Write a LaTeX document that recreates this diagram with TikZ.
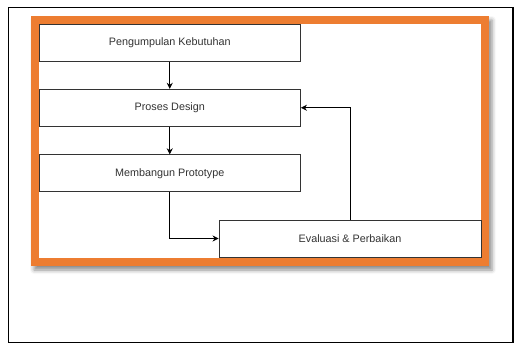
\documentclass[tikz,border=0pt]{standalone}
\usepackage{fontspec}
\setmainfont{Liberation Sans}
\usetikzlibrary{arrows.meta,shadows.blur}
\definecolor{frameorange}{HTML}{ED7D31}
\definecolor{boxline}{HTML}{333333}
\begin{document}
\begin{tikzpicture}[x=1pt,y=1pt,yscale=-1,xscale=1,
    stepbox/.style={draw=boxline, line width=0.9pt, fill=white, inner sep=0pt,
      minimum width=261.5pt, minimum height=37pt,
      font=\fontsize{10.8}{13}\selectfont, text=boxline},
    flow/.style={draw=black, line width=0.8pt, -{Stealth[length=6pt,width=6pt]}}]
        \useasboundingbox (0,0) rectangle (514,343);

        %Shape: Outer frame
        \draw [line width=1.5pt] (8.5,7.5) rectangle (513,342.3) ;

        %Shape: Picture with shadow
        \fill [white, blur shadow={shadow xshift=3pt, shadow yshift=-4pt, shadow blur radius=4pt, shadow opacity=45}] (31,16) rectangle (489,266) ;
        %Shape: Orange border
        \draw [frameorange, line width=8pt] (35,20) rectangle (485,262) ;

        % Step nodes
        \node [stepbox] (kebutuhan) at (169.75,43) {Pengumpulan Kebutuhan};
        \node [stepbox] (design) at (169.75,107.75) {Proses Design};
        \node [stepbox] (prototype) at (169.75,173.25) {Membangun Prototype};
        \node [stepbox, minimum width=262pt] (evaluasi) at (350,238.5) {Evaluasi \& Perbaikan};

        % Connectors
        \draw [flow] (kebutuhan) -- (design) ;
        \draw [flow] (design) -- (prototype) ;
        \draw [flow] (prototype.south) |- (evaluasi.west) ;
        \draw [flow] (evaluasi.north) |- (design.east) ;
    \end{tikzpicture}
\end{document}
